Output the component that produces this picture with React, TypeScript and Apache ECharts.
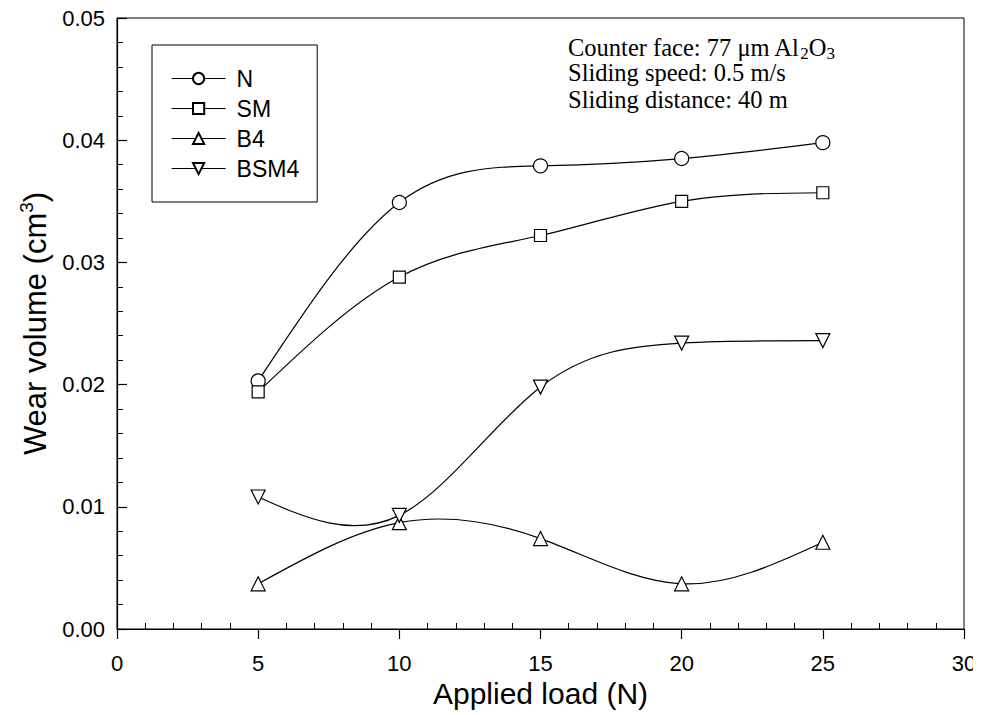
import React, { useEffect, useRef } from "react";
import * as echarts from "echarts";

const loads = [5, 10, 15, 20, 25];
const seriesNames = ["N", "SM", "B4", "BSM4"];
const wearN = [0.0203, 0.0349, 0.0379, 0.0385, 0.0398];
const wearSM = [0.0194, 0.0288, 0.0322, 0.035, 0.0357];
const wearB4 = [0.0037, 0.0087, 0.0074, 0.0037, 0.0071];
const wearBSM4 = [0.0108, 0.0093, 0.0198, 0.0234, 0.0236];
const xTicks = [0, 5, 10, 15, 20, 25, 30];
const yTicks = [0, 0.01, 0.02, 0.03, 0.04, 0.05];
const annotation = [
  "Counter face: 77 \u03bcm Al{sub|2}O{sub|3}",
  "Sliding speed: 0.5 m/s",
  "Sliding distance: 40 m",
];

const DOWN_TRI = "path://M0,0 L10,0 L5,9 Z";
const symbols = ["circle", "rect", "triangle", DOWN_TRI];
const symbolSizes = [14, 12, 14, 14];
const values = [wearN, wearSM, wearB4, wearBSM4];

// natural cubic spline through pixel points, returned as SVG path data
function splinePath(pts: number[][]): string {
  const n = pts.length - 1;
  const h: number[] = [];
  for (let i = 0; i < n; i++) h.push(pts[i + 1][0] - pts[i][0]);
  const M = new Array(n + 1).fill(0);
  if (n > 1) {
    const a: number[] = [], b: number[] = [], c: number[] = [], r: number[] = [];
    for (let i = 1; i < n; i++) {
      a.push(h[i - 1]);
      b.push(2 * (h[i - 1] + h[i]));
      c.push(h[i]);
      r.push(6 * ((pts[i + 1][1] - pts[i][1]) / h[i] - (pts[i][1] - pts[i - 1][1]) / h[i - 1]));
    }
    const m = b.length;
    for (let i = 1; i < m; i++) {
      const w = a[i] / b[i - 1];
      b[i] -= w * c[i - 1];
      r[i] -= w * r[i - 1];
    }
    const sol = new Array(m).fill(0);
    sol[m - 1] = r[m - 1] / b[m - 1];
    for (let i = m - 2; i >= 0; i--) sol[i] = (r[i] - c[i] * sol[i + 1]) / b[i];
    for (let i = 0; i < m; i++) M[i + 1] = sol[i];
  }
  let d = `M${pts[0][0]},${pts[0][1]}`;
  for (let i = 0; i < n; i++) {
    const [x0, y0] = pts[i];
    const [x1, y1] = pts[i + 1];
    const hi = h[i];
    const s = (y1 - y0) / hi;
    const d0 = s - (hi * (2 * M[i] + M[i + 1])) / 6;
    const d1 = s + (hi * (M[i] + 2 * M[i + 1])) / 6;
    d += ` C${x0 + hi / 3},${y0 + (d0 * hi) / 3} ${x1 - hi / 3},${y1 - (d1 * hi) / 3} ${x1},${y1}`;
  }
  return d;
}

export default function App() {
  const ref = useRef<HTMLDivElement>(null);
  useEffect(() => {
    if (!ref.current) return;
    const chart = echarts.init(ref.current, null, { renderer: "svg" });
    const sans = "Liberation Sans, Arial, sans-serif";
    const serif = "Liberation Serif, Times New Roman, serif";
    const curveSeries = values.map((vals, i) => ({
      name: seriesNames[i] + " curve",
      type: "custom",
      data: loads.map((x, j) => [x, vals[j]]),
      encode: { x: 0, y: 1 },
      z: 2,
      silent: true,
      renderItem: (params: any, api: any) => {
        if (params.dataIndex !== 0) return null;
        const pts = loads.map((x, j) => api.coord([x, vals[j]]));
        return {
          type: "path",
          shape: { pathData: splinePath(pts) },
          style: { stroke: "#000", lineWidth: 1.2, fill: "none" },
        };
      },
    }));
    const pointSeries = seriesNames.map((name, i) => ({
      name,
      type: "line",
      data: loads.map((x, j) => [x, values[i][j]]),
      symbol: symbols[i],
      symbolSize: symbolSizes[i],
      showSymbol: true,
      lineStyle: { color: "#000", width: 1.2, opacity: 0 },
      itemStyle: { color: "#fff", borderColor: "#000", borderWidth: 1.2 },
      emphasis: { disabled: true },
      z: 3,
    }));
    chart.setOption({
      animation: false,
      backgroundColor: "#fff",
      grid: {
        left: 117,
        right: 17,
        top: 18,
        bottom: 86,
        show: true,
        borderColor: "#000",
        borderWidth: 1,
        backgroundColor: "transparent",
      },
      legend: {
        orient: "vertical",
        left: 152,
        top: 45,
        data: seriesNames,
        borderColor: "#000",
        borderWidth: 1,
        padding: [22, 18, 22, 19],
        itemWidth: 54,
        itemHeight: 14,
        itemGap: 7,
        textStyle: {
          fontFamily: sans,
          fontSize: 23,
          lineHeight: 20,
          color: "#000",
          padding: [0, 0, 0, 6],
        },
        lineStyle: { color: "#000", width: 1.2, opacity: 1 },
        inactiveColor: "#000",
        selectedMode: false,
      },
      xAxis: [
        {
          type: "value",
          min: xTicks[0],
          max: xTicks[xTicks.length - 1],
          interval: 5,
          name: "Applied load (N)",
          nameLocation: "middle",
          nameGap: 40,
          nameTextStyle: { fontFamily: sans, fontSize: 30, color: "#000" },
          axisLine: { show: true, lineStyle: { color: "#000", width: 1.2 } },
          axisTick: { show: true, inside: false, length: 10, lineStyle: { color: "#000", width: 1.2 } },
          splitLine: { show: false },
          axisLabel: { fontFamily: sans, fontSize: 22, color: "#000", margin: 23 },
        },
        {
          type: "value",
          min: xTicks[0],
          max: xTicks[xTicks.length - 1],
          interval: 5,
          position: "bottom",
          axisLine: { show: false },
          axisTick: { show: true, inside: true, length: 0 },
          minorTick: { show: true, splitNumber: 5, length: 6, lineStyle: { color: "#000", width: 1 } },
          splitLine: { show: false },
          axisLabel: { show: false },
        },
      ],
      yAxis: {
        type: "value",
        min: yTicks[0],
        max: yTicks[yTicks.length - 1],
        interval: 0.01,
        name: "Wear volume (cm{sup|3})",
        nameLocation: "middle",
        nameGap: 64,
        nameRotate: 90,
        nameTextStyle: {
          fontFamily: sans,
          fontSize: 31,
          color: "#000",
          rich: {
            sup: { fontFamily: sans, fontSize: 19, color: "#000", padding: [0, 0, 17, 0] },
          },
        },
        axisLine: { show: true, lineStyle: { color: "#000", width: 1.2 } },
        axisTick: { show: true, inside: true, length: 10, lineStyle: { color: "#000", width: 1.2 } },
        minorTick: { show: true, splitNumber: 5, length: 6, lineStyle: { color: "#000" } },
        splitLine: { show: false },
        axisLabel: {
          fontFamily: sans,
          fontSize: 22,
          color: "#000",
          margin: 12,
          formatter: (v: number) => v.toFixed(2),
        },
      },
      graphic: annotation.map((t, i) => ({
        type: "text",
        left: 568,
        top: 33 + i * 27,
        style: {
          text: t,
          fontFamily: serif,
          fontSize: 24.5,
          lineHeight: 24,
          fill: "#000",
          rich: {
            sub: { fontFamily: serif, fontSize: 17, fill: "#000", lineHeight: 24, padding: [12, 0, 0, 0] },
          },
        },
      })),
      series: [...curveSeries, ...pointSeries],
    });
    return () => chart.dispose();
  }, []);
  return <div ref={ref} style={{ width: 981, height: 715, marginLeft: -8, marginTop: -8 }} />;
}
